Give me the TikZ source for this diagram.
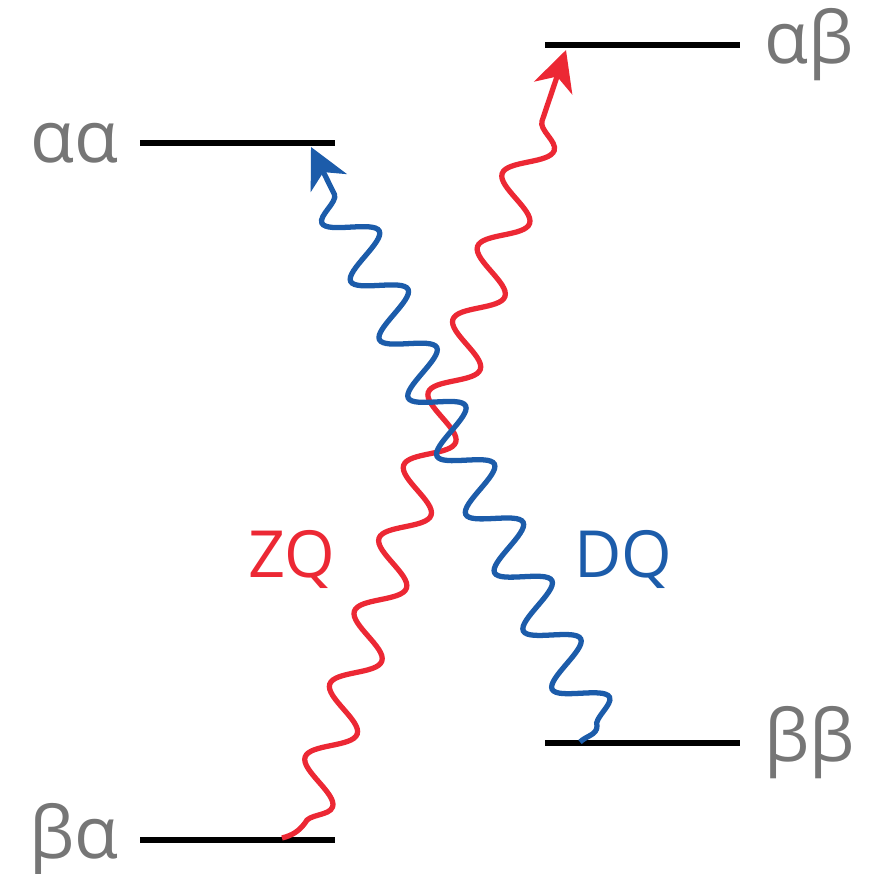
\documentclass[tikz,border=0pt]{standalone}
\usepackage{fontspec}
\setmainfont{Open Sans}
\usetikzlibrary{arrows.meta, positioning, decorations.pathmorphing}
\definecolor{zqred}{RGB}{236,40,52}
\definecolor{dqblue}{RGB}{28,92,170}
\definecolor{levelgray}{RGB}{118,118,118}

\begin{document}
\begin{tikzpicture}[
    x=0.02cm, y=-0.02cm,
    level/.style={line width=3.4pt, black},
    statelabel/.style={text=levelgray, font=\fontsize{41}{41}\selectfont, inner sep=0pt},
    qlabel/.style={text=#1, font=\fontsize{37}{37}\selectfont, inner sep=0pt, anchor=base},
    wave/.style={draw=#1, line width=3pt,
        -{Stealth[length=0.8cm, width=0.8cm, inset=0.24cm]}},
]
    \useasboundingbox (0,0) rectangle (871,874);

    % energy levels
    \coordinate (aaW) at (140,143); \coordinate (aaE) at (335,143);
    \coordinate (abW) at (545,45);  \coordinate (abE) at (740,45);
    \coordinate (bbW) at (545,743); \coordinate (bbE) at (740,743);
    \coordinate (baW) at (140,840); \coordinate (baE) at (335,840);

    \draw[level] (aaW) -- (aaE);
    \draw[level] (abW) -- (abE);
    \draw[level] (bbW) -- (bbE);
    \draw[level] (baW) -- (baE);

    \node[statelabel, left=0.42cm of aaW] (aaLabel) {αα};
    \node[statelabel, right=0.48cm of abE] (abLabel) {αβ};
    \node[statelabel, right=0.48cm of bbE] (bbLabel) {ββ};
    \node[statelabel, left=0.42cm of baW] (baLabel) {βα};

    % transitions
    \coordinate (zqS) at (282,838); \coordinate (zqA) at (305,823); \coordinate (zqT) at (566,50);
    \coordinate (dqS) at (580,742); \coordinate (dqA) at (597,726); \coordinate (dqT) at (311,147);

    \draw[wave=zqred] (zqS) to[out=15, in=-127] (zqA)
        decorate[decoration={snake, mirror, amplitude=0.42cm,
        segment length=1.54cm, post length=0.8cm}] {-- (zqT)};
    \draw[wave=dqblue] (dqS) to[out=45, in=-90] (dqA)
        decorate[decoration={snake, mirror, amplitude=0.48cm,
        segment length=1.3cm, post length=0.8cm}] {-- (dqT)};

    \node[qlabel=zqred] (zq) at (292,577) {ZQ};
    \node[qlabel=dqblue] (dq) at (623,577) {DQ};

\end{tikzpicture}
\end{document}
